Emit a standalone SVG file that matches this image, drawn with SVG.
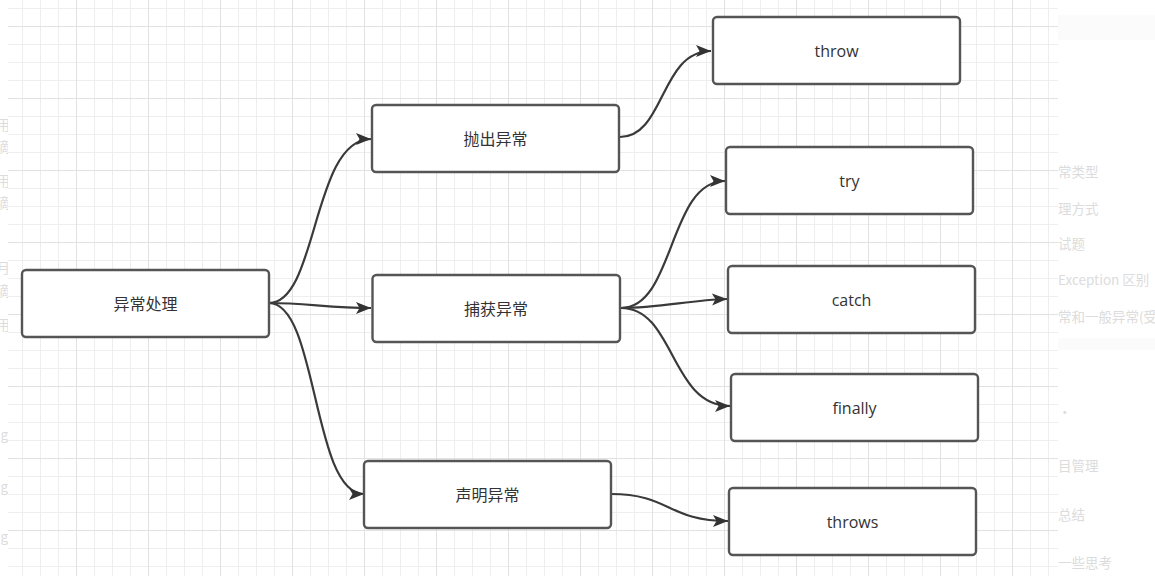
<svg xmlns="http://www.w3.org/2000/svg" width="1155" height="576" viewBox="0 0 1155 576">
<style>
.node rect{fill:#ffffff;stroke:#555555;stroke-width:2.4}
.node text{font-family:"Open Sans","Noto Sans CJK SC",sans-serif;font-size:16px;fill:#333333;text-anchor:middle;dominant-baseline:central}
.edge{fill:none;stroke:#3a3a3a;stroke-width:2.2;marker-end:url(#arr)}
.faint{font-family:"Noto Sans CJK SC","Noto Sans",sans-serif;font-size:13.5px;fill:#dcdcdc}
</style>
<defs>
<pattern id="grid" patternUnits="userSpaceOnUse" x="76" y="26" width="72" height="72">
<rect x="0" y="0" width="72" height="72" fill="#ffffff"/>
<rect x="18" y="0" width="1" height="72" fill="#eeeeee"/>
<rect x="36" y="0" width="1" height="72" fill="#eeeeee"/>
<rect x="54" y="0" width="1" height="72" fill="#eeeeee"/>
<rect x="0" y="18" width="72" height="1" fill="#eeeeee"/>
<rect x="0" y="36" width="72" height="1" fill="#eeeeee"/>
<rect x="0" y="54" width="72" height="1" fill="#eeeeee"/>
<rect x="0" y="0" width="1" height="72" fill="#e2e2e2"/>
<rect x="0" y="0" width="72" height="1" fill="#e2e2e2"/>
</pattern>
<marker id="arr" markerUnits="userSpaceOnUse" markerWidth="17" markerHeight="14" refX="15" refY="6.5" orient="auto">
<path d="M0,0.5 L15,6.5 L0,12.5 L3.5,6.5 Z" fill="#333333"/>
</marker>
<clipPath id="leftclip"><rect x="0" y="0" width="8" height="576"/></clipPath>
</defs>
<rect x="0" y="0" width="1155" height="576" fill="#ffffff"/>
<rect x="8" y="0" width="1050" height="576" fill="url(#grid)"/>
<rect x="1058" y="15" width="97" height="25" fill="#fbfbfb"/>
<rect x="1058" y="338" width="97" height="12" fill="#fbfbfb"/>
<g id="side-texts">
<g clip-path="url(#leftclip)" class="faint">
<text x="10" y="130" text-anchor="end">用</text>
<text x="10" y="152" text-anchor="end">滴</text>
<text x="10" y="186" text-anchor="end">用</text>
<text x="10" y="208" text-anchor="end">滴</text>
<text x="10" y="273" text-anchor="end">月</text>
<text x="10" y="296" text-anchor="end">滴</text>
<text x="10" y="330" text-anchor="end">用</text>
<text x="8" y="440" text-anchor="end">g</text>
<text x="8" y="492" text-anchor="end">g</text>
<text x="8" y="542" text-anchor="end">g</text>
</g>
<g class="faint">
<text x="1058" y="177">常类型</text>
<text x="1058" y="214">理方式</text>
<text x="1058" y="249">试题</text>
<text x="1058" y="285">Exception 区别</text>
<text x="1058" y="322">常和一般异常(受</text>
<text x="1058" y="417">·</text>
<text x="1058" y="471">目管理</text>
<text x="1058" y="520">总结</text>
<text x="1058" y="568">一些思考</text>
</g>
</g>
<g id="connectors">
<path class="edge" d="M269,303 C318,303 312,139 371,139"/>
<path class="edge" d="M269,303 C305,303 330,308 371,308"/>
<path class="edge" d="M269,303 C318,303 312,494 364,494"/>
<path class="edge" d="M620,137 C665,137 660,51 711,51"/>
<path class="edge" d="M621,308 C675,308 668,181 725,181"/>
<path class="edge" d="M621,308 C660,308 690,300 727,299"/>
<path class="edge" d="M621,308 C675,308 670,406 730,406"/>
<path class="edge" d="M611,494 C670,494 668,521 728,521"/>
</g>
<g id="n-root" class="node"><rect x="22" y="270" width="247" height="67" rx="4"/><text x="145.5" y="304">异常处理</text></g>
<g id="n-throwex" class="node"><rect x="372" y="105" width="247" height="67" rx="4"/><text x="495.5" y="139">抛出异常</text></g>
<g id="n-catchex" class="node"><rect x="372.5" y="275" width="247.5" height="67" rx="4"/><text x="496" y="309">捕获异常</text></g>
<g id="n-declex" class="node"><rect x="364" y="461" width="247" height="67" rx="4"/><text x="487.5" y="495">声明异常</text></g>
<g id="n-throw" class="node"><rect x="713" y="17" width="247" height="67" rx="4"/><text x="836.5" y="51">throw</text></g>
<g id="n-try" class="node"><rect x="726" y="147" width="247" height="67" rx="4"/><text x="849.5" y="181">try</text></g>
<g id="n-catch" class="node"><rect x="728" y="266" width="247" height="67" rx="4"/><text x="851.5" y="300">catch</text></g>
<g id="n-finally" class="node"><rect x="731" y="374" width="247" height="67" rx="4"/><text x="854.5" y="408">finally</text></g>
<g id="n-throws" class="node"><rect x="729" y="488" width="247" height="67" rx="4"/><text x="852.5" y="522">throws</text></g>
</svg>
